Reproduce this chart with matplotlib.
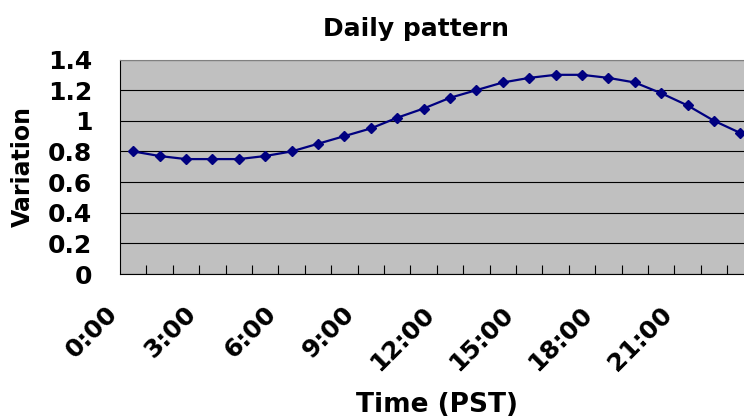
import matplotlib
matplotlib.use("Agg")
import matplotlib.pyplot as plt
from matplotlib.transforms import ScaledTranslation

# hourly values
hours = ["0:00", "1:00", "2:00", "3:00", "4:00", "5:00", "6:00", "7:00",
         "8:00", "9:00", "10:00", "11:00", "12:00", "13:00", "14:00", "15:00",
         "16:00", "17:00", "18:00", "19:00", "20:00", "21:00", "22:00", "23:00"]
variation = [0.80, 0.77, 0.75, 0.75, 0.75, 0.77, 0.80, 0.85, 0.90, 0.95, 1.02, 1.08,
             1.15, 1.20, 1.25, 1.28, 1.30, 1.30, 1.28, 1.25, 1.18, 1.10, 1.00, 0.92]
y_ticks = [0, 0.2, 0.4, 0.6, 0.8, 1.0, 1.2, 1.4]
y_labels = ["0", "0.2", "0.4", "0.6", "0.8", "1", "1.2", "1.4"]

W, H = 744, 420
fig = plt.figure(figsize=(W / 100, H / 100), dpi=100)
# plot area runs past the right edge of the picture, as in the original
ax = fig.add_axes([120 / W, 146 / H, 633.6 / W, 214.5 / H])

x = list(range(len(hours)))
ax.plot(x, variation, color="#000080", lw=1.6, marker="D", ms=5.2,
        mfc="#000080", mec="#000080", zorder=3)

ax.set_xlim(-0.5, len(hours) - 0.5)
ax.set_ylim(0, 1.4)
ax.set_facecolor("#C0C0C0")
ax.set_axisbelow(True)
ax.yaxis.grid(True, color="black", lw=0.8)

ax.set_yticks(y_ticks)
ax.set_yticklabels(y_labels, fontsize=18, fontweight="bold")
ax.tick_params(axis="y", length=0, pad=20)

# labels every 3 hours, tick marks between categories
ax.set_xticks(x[::3])
ax.set_xticklabels(hours[::3], fontsize=18, fontweight="bold",
                   rotation=45, ha="right", va="top")
ax.set_xticks([i + 0.5 for i in x], minor=True)
ax.tick_params(axis="x", which="major", length=0, pad=20)
ax.tick_params(axis="x", which="minor", length=6.5, direction="in", width=0.8)
shift = ScaledTranslation(-0.11, 0, fig.dpi_scale_trans)
for lbl in ax.get_xticklabels():
    lbl.set_transform(lbl.get_transform() + shift)

ax.spines["top"].set_color("#808080")
ax.spines["right"].set_visible(False)
ax.spines["left"].set_color("black")
ax.spines["bottom"].set_color("black")

fig.text(415.8 / W, 1 - 36 / H, "Daily pattern", ha="center", va="baseline",
         fontsize=18, fontweight="bold")
fig.text(436.7 / W, 1 - 411.7 / H, "Time (PST)", ha="center", va="baseline",
         fontsize=19, fontweight="bold")
fig.text(22.5 / W, 1 - 166.75 / H, "Variation", rotation=90, ha="center",
         va="center", fontsize=17, fontweight="bold")

fig.savefig("out.png", dpi=100)
